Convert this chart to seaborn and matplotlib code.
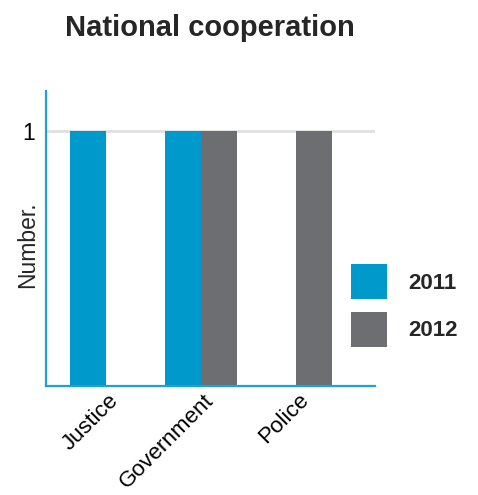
import matplotlib
matplotlib.use("Agg")
import matplotlib.pyplot as plt
import matplotlib.transforms as mtrans
import seaborn as sns
import pandas as pd

categories = ["Justice", "Government", "Police"]
years = ["2011", "2012"]
values_2011 = [1, 1, 0]
values_2012 = [0, 1, 1]
colors = {"2011": "#0099cc", "2012": "#6d6e71"}

rows = []
for c, v in zip(categories, values_2011):
    rows.append({"category": c, "year": "2011", "value": v})
for c, v in zip(categories, values_2012):
    rows.append({"category": c, "year": "2012", "value": v})
df = pd.DataFrame(rows)

sns.set_theme(style="white")
plt.rcParams["font.family"] = ["Liberation Sans", "DejaVu Sans"]

fig = plt.figure(figsize=(4.78, 4.95), dpi=100)
W, H = 478, 495
ax = fig.add_axes([46 / W, 1 - 385.5 / H, (375 - 46) / W, (385.5 - 91) / H])

sns.barplot(data=df, x="category", y="value", hue="year", order=categories,
            hue_order=years, palette=colors, width=0.75, linewidth=0,
            saturation=1, ax=ax, legend=True)

handles, labels = ax.get_legend_handles_labels()
ax.get_legend().remove()

ax.set_xlim(-0.63, 2.83)
ax.set_ylim(0, 1.157)
ax.set_yticks([1])
ax.set_yticklabels(["1"])
ax.grid(axis="y", color="#e0e0e0", linewidth=2)
ax.set_axisbelow(True)

for s in ["top", "right"]:
    ax.spines[s].set_visible(False)
for s in ["left", "bottom"]:
    ax.spines[s].set_color("#1ea0dc")
    ax.spines[s].set_linewidth(1.6)

ax.tick_params(axis="y", length=0, pad=8, labelsize=16.5, colors="black")
ax.tick_params(axis="x", length=0, pad=3, labelsize=16.2, colors="black")
offset = mtrans.ScaledTranslation(2 / 100, 0, fig.dpi_scale_trans)
for lab in ax.get_xticklabels():
    lab.set_rotation(45)
    lab.set_ha("right")
    lab.set_va("top")
    lab.set_rotation_mode("anchor")
    lab.set_transform(lab.get_transform() + offset)

ax.set_xlabel("")
ax.set_ylabel("")
fig.text(28 / W, 1 - 245 / H, "Number.", rotation=90, ha="center",
         va="center", fontsize=16.5)
fig.text(210 / W, 1 - 28.5 / H, "National cooperation", ha="center",
         va="center", fontsize=21, fontweight="bold")

leg = fig.legend(handles, labels, loc="upper left",
                 bbox_to_anchor=(351 / W, 1 - 264 / H), frameon=False,
                 borderpad=0, borderaxespad=0, handlelength=1.62,
                 handleheight=2.05, labelspacing=0.56, handletextpad=0.95,
                 prop={"size": 16, "weight": "bold"})

fig.savefig("out.png", dpi=100)
